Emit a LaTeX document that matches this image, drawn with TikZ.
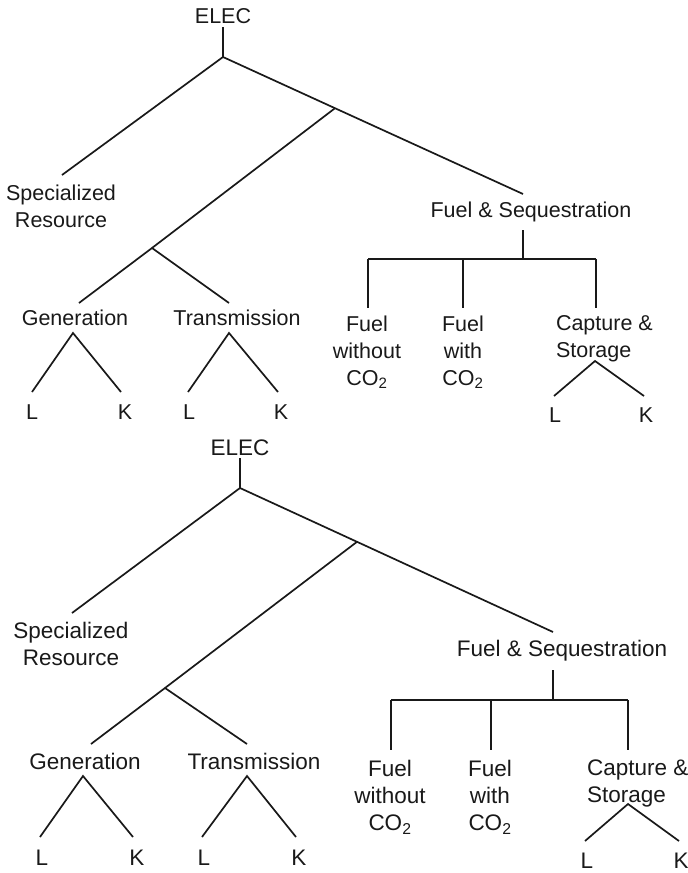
\documentclass[tikz,border=0pt]{standalone}
\usepackage{fontspec}
\setmainfont{Liberation Sans}
\begin{document}
\begin{tikzpicture}[x=1pt,y=-1pt,
  ln/.style={line width=1.7pt,black!90},
  lblA/.style={inner sep=0pt,outer sep=0pt,align=center,font=\fontsize{21.5}{27}\selectfont,text=black!90},
  lblB/.style={inner sep=0pt,outer sep=0pt,align=center,font=\fontsize{22.5}{27}\selectfont,text=black!90}]
\useasboundingbox (0,0) rectangle (688,873);
% ===================== top tree =====================
\node[lblA,anchor=north] (aElec) at (223,8) {ELEC};
\node[lblA,anchor=north] (aSR) at (61,185) {Specialized\\Resource};
\node[lblA,anchor=north] (aFS) at (531,202) {Fuel \& Sequestration};
\node[lblA,anchor=north] (aGen) at (75,310) {Generation};
\node[lblA,anchor=north] (aTr) at (237,310) {Transmission};
\node[lblA,anchor=north] (aGL) at (32,405) {L};
\node[lblA,anchor=north] (aGK) at (125,405) {K};
\node[lblA,anchor=north] (aTL) at (189,405) {L};
\node[lblA,anchor=north] (aTK) at (281,405) {K};
\node[lblA,anchor=north] (aFwo) at (367,316) {Fuel\\without\\CO\textsubscript{2}};
\node[lblA,anchor=north] (aFw) at (463,316) {Fuel\\with\\CO\textsubscript{2}};
\node[lblA,anchor=north west,align=left] (aCS) at (556,315) {Capture \&\\Storage};
\node[lblA,anchor=north] (aCL) at (555,408) {L};
\node[lblA,anchor=north] (aCK) at (646,408) {K};

\coordinate (aE1) at (223,27);
\coordinate (aR) at (223,57);
\coordinate (aSRe) at (62,175);
\coordinate (aJ) at (335,108.2);
\coordinate (aFSe) at (523,194);
\coordinate (aJ2) at (152,248);
\coordinate (aGenE) at (79,303);
\coordinate (aTrE) at (229,303);
\coordinate (aGA) at (73,333);
\coordinate (aGLe) at (32,392);
\coordinate (aGKe) at (121,392);
\coordinate (aTA) at (229,333);
\coordinate (aTLe) at (188,392);
\coordinate (aTKe) at (278,392);
\coordinate (aFS1) at (523,230);
\coordinate (aFS2) at (523,259);
\coordinate (aH1) at (368,259);
\coordinate (aH2) at (463,259);
\coordinate (aH3) at (596,259);
\coordinate (aV1) at (368,308);
\coordinate (aV2) at (463,308);
\coordinate (aV3) at (596,308);
\coordinate (aCA) at (595,361);
\coordinate (aCLe) at (554,396);
\coordinate (aCKe) at (644,396);

\draw[ln] (aE1) -- (aR);
\draw[ln] (aR) -- (aSRe);
\draw[ln] (aR) -- (aJ) -- (aFSe);
\draw[ln] (aJ) -- (aJ2);
\draw[ln] (aGenE) -- (aJ2) -- (aTrE);
\draw[ln] (aGLe) -- (aGA) -- (aGKe);
\draw[ln] (aTLe) -- (aTA) -- (aTKe);
\draw[ln] (aFS1) -- (aFS2);
\draw[ln] (aH1) -- (aH3);
\draw[ln] (aH1) -- (aV1);
\draw[ln] (aH2) -- (aV2);
\draw[ln] (aH3) -- (aV3);
\draw[ln] (aCLe) -- (aCA) -- (aCKe);

% ===================== bottom tree =====================
\node[lblB,anchor=north] (bElec) at (240,440) {ELEC};
\node[lblB,anchor=north] (bSR) at (71,622) {Specialized\\Resource};
\node[lblB,anchor=north] (bFS) at (562,640) {Fuel \& Sequestration};
\node[lblB,anchor=north] (bGen) at (85,753) {Generation};
\node[lblB,anchor=north] (bTr) at (254,753) {Transmission};
\node[lblB,anchor=north] (bGL) at (42,850) {L};
\node[lblB,anchor=north] (bGK) at (137,850) {K};
\node[lblB,anchor=north] (bTL) at (204,850) {L};
\node[lblB,anchor=north] (bTK) at (299,850) {K};
\node[lblB,anchor=north] (bFwo) at (390,760) {Fuel\\without\\CO\textsubscript{2}};
\node[lblB,anchor=north] (bFw) at (490,760) {Fuel\\with\\CO\textsubscript{2}};
\node[lblB,anchor=north west,align=left] (bCS) at (587,760) {Capture \&\\Storage};
\node[lblB,anchor=north] (bCL) at (587,853) {L};
\node[lblB,anchor=north] (bCK) at (681,853) {K};

\coordinate (bE1) at (240,458);
\coordinate (bR) at (240,488);
\coordinate (bSRe) at (72,613);
\coordinate (bJ) at (357,541.8);
\coordinate (bFSe) at (553,632);
\coordinate (bJ2) at (165,688);
\coordinate (bGenE) at (91,744);
\coordinate (bTrE) at (247,744);
\coordinate (bGA) at (83,776);
\coordinate (bGLe) at (40,837);
\coordinate (bGKe) at (133,837);
\coordinate (bTA) at (247,776);
\coordinate (bTLe) at (202,837);
\coordinate (bTKe) at (296,837);
\coordinate (bFS1) at (553,670);
\coordinate (bFS2) at (553,700);
\coordinate (bH1) at (391,700);
\coordinate (bH2) at (491,700);
\coordinate (bH3) at (628,700);
\coordinate (bV1) at (391,750);
\coordinate (bV2) at (491,750);
\coordinate (bV3) at (628,750);
\coordinate (bCA) at (628,804);
\coordinate (bCLe) at (585,841);
\coordinate (bCKe) at (679,841);

\draw[ln] (bE1) -- (bR);
\draw[ln] (bR) -- (bSRe);
\draw[ln] (bR) -- (bJ) -- (bFSe);
\draw[ln] (bJ) -- (bJ2);
\draw[ln] (bGenE) -- (bJ2) -- (bTrE);
\draw[ln] (bGLe) -- (bGA) -- (bGKe);
\draw[ln] (bTLe) -- (bTA) -- (bTKe);
\draw[ln] (bFS1) -- (bFS2);
\draw[ln] (bH1) -- (bH3);
\draw[ln] (bH1) -- (bV1);
\draw[ln] (bH2) -- (bV2);
\draw[ln] (bH3) -- (bV3);
\draw[ln] (bCLe) -- (bCA) -- (bCKe);
\end{tikzpicture}
\end{document}
